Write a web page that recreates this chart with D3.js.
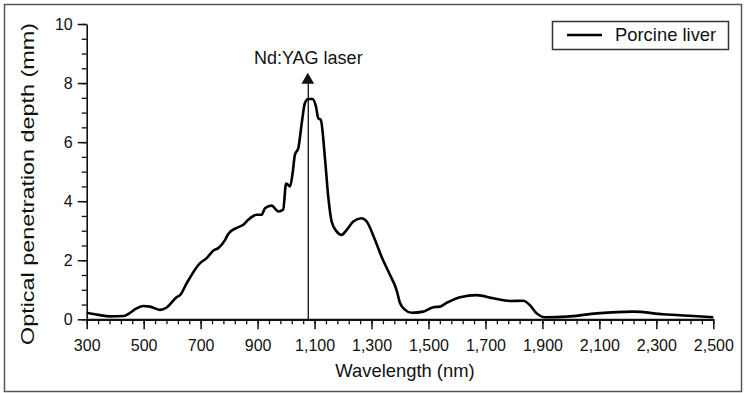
<!DOCTYPE html>
<html>
<head>
<meta charset="utf-8">
<script src="https://cdn.jsdelivr.net/npm/d3@7"></script>
<style>
  body { margin: 0; background: #fff; }
  text { font-family: "Liberation Sans", Arial, sans-serif; fill: #111; }
</style>
</head>
<body>
<svg id="chart" width="746" height="393"></svg>
<script>
// wavelength (nm) and optical penetration depth (mm)
const wavelength = [300, 341, 382, 429, 446, 475, 499, 522, 557, 581, 616, 628, 651, 698, 721, 745, 762, 786, 797, 827,
  850, 867, 897, 914, 926, 949, 973, 990, 1000, 1014, 1023, 1031, 1043, 1055, 1066, 1078, 1093, 1105, 1113, 1122,
  1137, 1148, 1160, 1178, 1195, 1213, 1236, 1265, 1283, 1312, 1336, 1365, 1388, 1400, 1418, 1441, 1482, 1517, 1540,
  1564, 1611, 1669, 1728, 1786, 1833, 1856, 1880, 1909, 1985, 2091, 2219, 2324, 2430, 2500];
const depth = [0.22, 0.15, 0.10, 0.11, 0.18, 0.37, 0.45, 0.43, 0.32, 0.40, 0.75, 0.82, 1.22, 1.90, 2.07, 2.33, 2.41, 2.69, 2.89, 3.10,
  3.20, 3.37, 3.54, 3.54, 3.76, 3.85, 3.65, 3.72, 4.60, 4.50, 4.95, 5.57, 5.80, 6.64, 7.32, 7.46, 7.46, 7.20, 6.81, 6.75,
  5.40, 4.16, 3.31, 2.97, 2.86, 3.03, 3.31, 3.42, 3.31, 2.69, 2.10, 1.50, 0.99, 0.55, 0.32, 0.22, 0.26, 0.41, 0.43,
  0.56, 0.75, 0.82, 0.71, 0.62, 0.63, 0.48, 0.20, 0.07, 0.09, 0.20, 0.26, 0.17, 0.11, 0.07];

const xTicks = d3.range(300, 2501, 200);
const xMinorTicks = d3.range(300, 2501, 40);
const yTicks = [0, 2, 4, 6, 8, 10];
const yMinorTicks = d3.range(0, 10.01, 0.5);

const laserWavelength = 1078;
const laserLabel = "Nd:YAG laser";
const seriesName = "Porcine liver";

const svg = d3.select("#chart");

const x = d3.scaleLinear().domain([300, 2500]).range([86.7, 713.3]);
const y = d3.scaleLinear().domain([0, 10]).range([319.3, 24]);

// outer frame
svg.append("rect")
  .attr("x", 4.5).attr("y", 4.5)
  .attr("width", 737).attr("height", 387)
  .attr("fill", "none")
  .attr("stroke", "#555")
  .attr("stroke-width", 1.5);

// minor ticks
svg.append("g")
  .attr("transform", `translate(0,${y(0)})`)
  .call(d3.axisBottom(x).tickValues(xMinorTicks).tickSize(5).tickFormat(""))
  .call(g => g.select(".domain").remove())
  .selectAll("line").attr("stroke", "#111").attr("stroke-width", 1.3);

svg.append("g")
  .attr("transform", `translate(${x(300)},0)`)
  .call(d3.axisLeft(y).tickValues(yMinorTicks).tickSize(5).tickFormat(""))
  .call(g => g.select(".domain").remove())
  .selectAll("line").attr("stroke", "#111").attr("stroke-width", 1.3);

// major ticks + labels
const xAxis = svg.append("g")
  .attr("transform", `translate(0,${y(0)})`)
  .call(d3.axisBottom(x).tickValues(xTicks).tickSize(10).tickSizeOuter(0).tickPadding(10).tickFormat(d3.format(",")));
xAxis.select(".domain").attr("stroke", "#111").attr("stroke-width", 2.2);
xAxis.selectAll(".tick line").attr("stroke", "#111").attr("stroke-width", 1.5);
xAxis.selectAll("text").style("font-size", "16px").attr("fill", "#111");

const yAxis = svg.append("g")
  .attr("transform", `translate(${x(300)},0)`)
  .call(d3.axisLeft(y).tickValues(yTicks).tickSize(9).tickSizeOuter(0).tickPadding(5));
yAxis.select(".domain").attr("stroke", "#111").attr("stroke-width", 1.6);
yAxis.selectAll(".tick line").attr("stroke", "#111").attr("stroke-width", 1.5);
yAxis.selectAll("text").style("font-size", "16px").attr("fill", "#111");

// axis titles
svg.append("text")
  .attr("x", 405).attr("y", 377)
  .attr("text-anchor", "middle")
  .style("font-size", "18.4px")
  .text("Wavelength (nm)");

svg.append("text")
  .attr("transform", `translate(34,184) rotate(-90)`)
  .attr("text-anchor", "middle")
  .attr("textLength", 322)
  .attr("lengthAdjust", "spacingAndGlyphs")
  .style("font-size", "18px")
  .text("Optical penetration depth (mm)");

// laser marker
svg.append("line")
  .attr("x1", x(laserWavelength)).attr("x2", x(laserWavelength))
  .attr("y1", y(0)).attr("y2", 82)
  .attr("stroke", "#111")
  .attr("stroke-width", 1.3);

svg.append("path")
  .attr("d", d3.symbol(d3.symbolTriangle, 70)())
  .attr("transform", `translate(${x(laserWavelength) - 0.5},80)`)
  .attr("fill", "#111");

svg.append("text")
  .attr("x", x(laserWavelength)).attr("y", 64)
  .attr("text-anchor", "middle")
  .style("font-size", "18px")
  .text(laserLabel);

// the curve
const points = wavelength.map((w, i) => [w, depth[i]]);
const line = d3.line()
  .x(d => x(d[0]))
  .y(d => y(d[1]))
  .curve(d3.curveMonotoneX);

svg.append("path")
  .datum(points)
  .attr("d", line)
  .attr("fill", "none")
  .attr("stroke", "#000")
  .attr("stroke-width", 2.6)
  .attr("stroke-linejoin", "round");

// legend
const legend = svg.append("g");
legend.append("rect")
  .attr("x", 552.5).attr("y", 21.5)
  .attr("width", 176).attr("height", 28)
  .attr("fill", "#fff")
  .attr("stroke", "#333")
  .attr("stroke-width", 1.5);
legend.append("line")
  .attr("x1", 567).attr("x2", 602)
  .attr("y1", 35).attr("y2", 35)
  .attr("stroke", "#000")
  .attr("stroke-width", 2.6);
legend.append("text")
  .attr("x", 615).attr("y", 41)
  .style("font-size", "18.4px")
  .text(seriesName);
</script>
</body>
</html>
